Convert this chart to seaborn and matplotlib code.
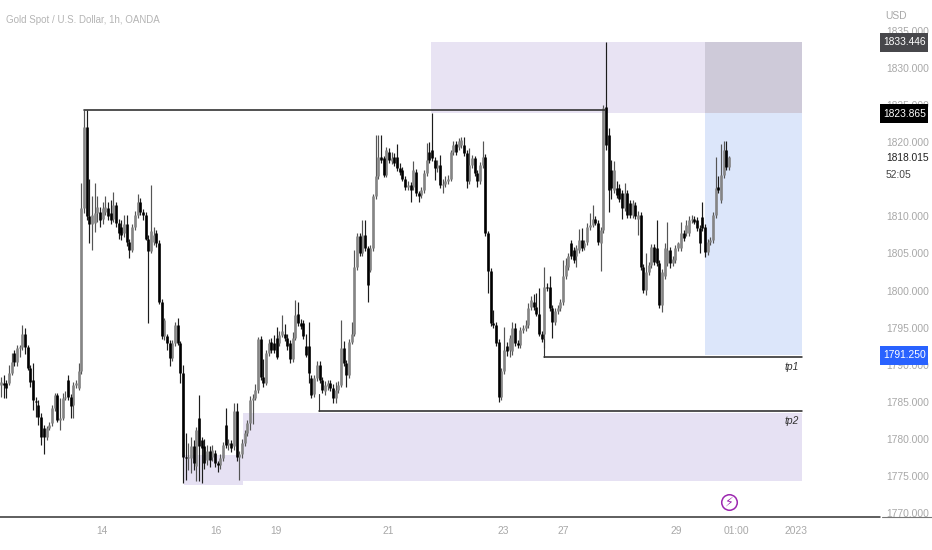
import matplotlib.pyplot as plt
import pandas as pd
import seaborn as sns

opens = [
    1787.3,1787.5,1787.5,1787.5,1788.9,1791.6,1790.4,1792.2,1792.4,1794.2,
    1792.4,1789.5,1787.9,1785.1,1784.6,1783.0,1781.5,1780.3,1781.5,
    1782.1,1784.1,1785.9,1782.6,1782.8,1785.5,1788.0,1785.7,1784.6,1787.3,
    1786.9,1789.1,1811.1,1822.1,1810.0,1808.9,1809.1,1810.4,1810.6,
    1809.7,1810.6,1811.1,1810.4,1809.7,1811.5,1809.1,1808.6,1807.7,
    1808.9,1806.6,1805.5,1808.6,1810.2,1812.0,1810.6,1810.2,1807.0,1805.3,
    1806.6,1807.7,1806.4,1798.5,1793.8,1793.8,1792.9,1790.9,1792.9,1795.4,
    1792.9,1788.9,1777.6,1777.4,1777.4,1779.0,1776.3,1782.8,1779.9,1779.0,
    1777.2,1778.3,1777.6,1778.1,1776.7,1776.5,1777.4,1781.9,1779.2,1779.4,
    1779.0,1783.7,1777.6,1777.9,1779.4,1780.8,1782.1,1785.3,1785.5,1786.6,
    1793.4,1788.4,1787.5,1791.6,1793.1,1792.9,1793.6,1792.9,1794.0,1794.2,
    1793.6,1792.9,1790.7,1793.6,1796.9,1795.6,1795.6,
    1792.5,1792.5,1788.2,1786.0,1788.2,1790.0,1788.0,1786.4,1787.1,1787.5,
    1786.9,1785.5,1786.6,1787.3,1792.2,1790.2,1788.6,1793.1,1794.2,1803.2,
    1807.3,1805.0,1807.5,1805.7,1802.8,1805.7,1812.7,1815.4,1818.0,1817.8,
    1815.6,1818.7,1817.4,1818.0,1818.0,1816.5,1816.3,1815.1,1814.0,1814.2,
    1814.0,1816.0,1813.1,1812.9,1813.6,1815.8,1818.7,1818.9,1817.6,1816.5,
    1816.9,1814.2,1814.4,1814.7,1815.0,1818.7,1819.8,1819.4,1819.6,1819.6,
    1818.5,1814.7,1816.9,1817.8,1815.8,1814.7,1816.9,1818.0,1807.7,1802.6,
    1795.6,1795.4,1793.1,1785.7,1789.1,1792.5,1792.0,1791.8,1794.9,1792.9,
    1792.7,1794.7,1794.9,1795.4,1797.8,1798.5,1797.8,1796.9,1794.2,
    1794.2,1800.5,1800.5,1797.6,1795.8,1797.2,1797.6,1798.5,1801.9,1803.2,
    1806.4,1805.5,1804.6,1805.5,1806.8,1805.9,1806.6,1808.6,1808.8,1809.7,
    1809.1,1806.4,1808.2,
    1824.8,1821.0,1816.2,1813.5,1813.8,1813.8,1813.1,1811.1,1813.1,1811.8,
    1810.2,1811.5,1809.7,1810.2,1803.2,1800.1,1802.5,1803.4,1805.9,1805.7,
    1803.7,1798.1,1801.9,1803.7,1805.4,1803.7,1804.1,1805.7,1805.7,1807.7,
    1807.7,1807.7,1809.5,1809.7,1809.5,1808.4,1809.9,1808.6,1805.2,1806.6,1806.8,
    1810.2,1814.0,1812.2,1815.6,1819.0,1816.7,
]
closes = [
    1787.7,1787.3,1786.9,1788.9,1790.4,1790.4,1792.2,1792.4,1794.2,1792.4,
    1789.5,1787.7,1785.3,1785.0,1783.0,1780.3,1780.3,1781.5,1781.9,
    1784.1,1785.9,1782.6,1782.8,1785.5,1785.7,1785.7,1784.4,1787.3,1787.5,
    1789.1,1811.1,1822.1,1810.0,1808.9,1810.2,1810.4,1811.3,1809.5,
    1811.1,1811.3,1810.0,1809.5,1811.5,1809.1,1807.7,1807.5,1808.9,
    1806.6,1805.5,1808.6,1810.2,1812.0,1810.6,1810.2,1807.0,1805.3,1808.0,
    1807.5,1806.4,1798.5,1793.8,1796.0,1792.9,1790.9,1792.9,1795.4,1792.9,
    1788.9,1777.6,1777.4,1777.6,1779.0,1776.7,1781.2,1779.0,1778.8,1776.7,
    1778.3,1777.2,1778.5,1776.7,1776.5,1777.4,1779.2,1779.2,1779.4,1778.8,
    1783.7,1777.6,1777.9,1779.4,1780.8,1782.1,1785.3,1785.5,1786.6,1793.4,
    1788.4,1787.5,1791.6,1792.9,1792.0,1792.0,1791.1,1794.0,1794.5,1793.6,
    1792.5,1790.7,1793.6,1796.7,1795.6,1795.2,1793.8,
    1791.3,1788.9,1785.9,1788.2,1790.0,1788.0,1786.6,1787.3,1787.5,1786.9,
    1785.5,1786.6,1787.3,1792.2,1790.2,1788.6,1793.1,1794.2,1803.2,1807.3,
    1805.0,1807.5,1805.7,1800.8,1805.7,1812.7,1815.4,1818.0,1817.6,1815.6,
    1818.9,1817.6,1817.8,1817.2,1816.5,1816.0,1815.1,1814.0,1814.2,1813.6,
    1816.3,1813.1,1812.7,1813.6,1815.8,1817.6,1817.6,1817.8,1816.5,1816.9,
    1814.2,1814.4,1814.7,1815.0,1818.7,1819.6,1818.7,1820.1,1820.3,1818.5,
    1814.7,1816.9,1817.8,1815.8,1814.7,1816.9,1818.0,1807.7,1802.6,1795.6,
    1795.4,1792.9,1785.7,1789.1,1792.0,1791.8,1793.6,1794.9,1792.9,1792.7,
    1794.7,1794.9,1795.4,1797.6,1798.7,1797.8,1796.9,1794.2,1793.4,
    1800.5,1800.3,1797.6,1795.8,1797.2,1797.6,1798.5,1801.9,1803.5,1804.6,
    1804.6,1804.1,1805.7,1806.8,1805.7,1806.4,1808.6,1808.8,1809.7,1809.1,
    1806.6,1808.2,1824.6,
    1819.6,1813.5,1813.8,1816.2,1812.9,1812.4,1811.1,1813.1,1810.2,1810.2,
    1811.8,1810.0,1810.2,1803.2,1800.1,1802.5,1803.4,1805.9,1803.9,1803.7,
    1798.1,1802.5,1805.7,1805.4,1803.7,1804.3,1805.7,1806.4,1807.7,1807.1,
    1808.8,1809.5,1809.7,1809.2,1808.4,1806.4,1808.4,1805.2,1806.6,1806.8,1810.2,
    1813.8,1813.5,1815.6,1819.0,1816.7,1818.0,
]
highs = [
    1788.4,1788.6,1788.0,1790.0,1791.6,1792.0,1792.7,1792.7,1795.4,1795.0,
    1792.6,1789.9,1790.2,1785.6,1785.3,1783.5,1781.9,1781.7,1782.3,
    1784.6,1786.2,1786.2,1785.5,1786.2,1786.5,1788.6,1786.0,1787.6,1788.0,
    1790.2,1814.5,1824.3,1824.3,1815.1,1812.7,1814.5,1812.7,1811.2,
    1812.0,1812.7,1811.9,1812.2,1813.3,1812.0,1809.6,1809.5,1810.2,
    1810.2,1807.0,1809.0,1810.7,1813.0,1812.5,1811.0,1810.6,1807.5,1814.2,
    1808.6,1808.2,1806.8,1798.9,1796.3,1794.2,1793.3,1793.3,1795.8,1796.3,
    1793.2,1790.0,1780.8,1779.5,1780.3,1779.8,1781.6,1785.9,1780.3,1780.0,
    1779.2,1779.0,1779.2,1778.5,1777.0,1778.0,1779.6,1784.1,1780.0,1779.8,
    1784.8,1784.8,1778.3,1780.0,1781.2,1782.6,1785.8,1786.0,1787.4,1793.7,
    1793.8,1790.7,1792.0,1793.4,1793.6,1794.0,1795.1,1794.6,1796.7,1795.5,
    1794.2,1793.3,1794.4,1798.7,1798.5,1796.2,1796.0,
    1794.2,1795.8,1788.6,1788.6,1790.5,1790.5,1788.4,1787.8,1788.0,1787.9,
    1787.4,1787.7,1787.8,1796.0,1793.2,1790.6,1793.5,1795.8,1805.5,1807.8,
    1807.8,1809.5,1809.5,1806.0,1806.1,1813.0,1821.0,1821.0,1821.0,1818.2,
    1819.4,1819.2,1818.7,1818.6,1819.8,1817.2,1816.7,1815.5,1814.7,1814.6,
    1817.4,1816.4,1813.4,1814.0,1816.2,1819.9,1820.0,1823.9,1818.0,1817.6,
    1818.3,1815.0,1815.5,1815.6,1819.0,1820.1,1820.2,1820.5,1820.7,1820.7,
    1818.9,1819.2,1818.3,1818.2,1816.2,1817.3,1820.1,1818.4,1808.0,1803.0,
    1797.4,1795.8,1793.5,1789.5,1795.1,1793.0,1794.0,1795.7,1795.6,1793.3,
    1795.1,1795.3,1796.0,1798.3,1799.2,1799.5,1799.6,1800.3,1794.6,
    1803.2,1801.0,1802.0,1798.0,1797.6,1798.0,1798.9,1804.1,1804.4,1805.0,
    1806.8,1805.9,1806.1,1808.3,1808.4,1806.8,1809.1,1810.4,1811.5,1810.0,
    1809.5,1808.6,1825.0,
    1833.5,1821.9,1817.6,1817.5,1814.7,1814.4,1813.5,1814.5,1813.6,1812.2,
    1812.2,1811.9,1810.7,1810.6,1803.6,1805.0,1803.8,1806.3,1806.3,1809.5,
    1804.1,1802.9,1806.4,1809.3,1805.8,1804.7,1806.1,1806.6,1809.3,1808.1,
    1809.5,1810.0,1810.2,1810.1,1809.9,1808.8,1812.0,1809.0,1807.0,1807.2,1810.6,
    1818.0,1815.5,1819.8,1820.1,1820.1,1818.2,
]
lows = [
    1785.7,1785.5,1785.5,1787.3,1788.6,1789.8,1789.8,1791.1,1792.0,1791.5,
    1789.3,1787.0,1783.9,1783.0,1781.9,1779.2,1777.9,1779.9,1781.2,
    1781.7,1783.8,1782.3,1781.2,1782.6,1785.2,1785.3,1782.8,1782.8,1786.8,
    1786.6,1788.8,1810.5,1809.5,1806.4,1805.5,1807.9,1809.3,1808.6,
    1809.0,1810.2,1809.5,1809.0,1809.2,1808.6,1806.9,1806.8,1807.2,
    1806.0,1804.4,1805.2,1808.2,1809.8,1810.2,1809.5,1806.8,1795.6,1805.0,
    1806.2,1805.9,1798.2,1793.5,1793.3,1792.0,1789.8,1790.5,1792.5,1792.6,
    1787.5,1774.0,1774.5,1775.8,1775.4,1775.8,1774.3,1774.3,1774.0,1776.0,
    1776.5,1776.2,1777.0,1776.2,1775.5,1776.0,1777.0,1778.8,1778.5,1778.2,
    1778.5,1777.0,1774.5,1777.4,1779.0,1780.4,1781.2,1782.0,1785.2,1786.2,
    1788.0,1787.0,1787.2,1791.2,1791.6,1791.6,1790.8,1792.5,1793.7,1793.2,
    1792.0,1790.2,1790.4,1793.3,1795.2,1794.8,1793.4,
    1791.0,1787.5,1785.5,1785.6,1787.8,1787.5,1786.2,1785.9,1786.6,1786.4,
    1784.8,1784.8,1786.2,1787.0,1789.8,1787.0,1788.2,1792.8,1793.9,1802.8,
    1804.6,1804.6,1805.3,1798.5,1802.5,1805.3,1812.4,1815.0,1817.2,1815.3,
    1815.3,1817.2,1817.0,1816.8,1816.1,1815.6,1814.8,1813.5,1813.6,1812.0,
    1813.6,1812.8,1812.0,1812.5,1813.2,1815.4,1817.2,1817.4,1814.9,1816.0,
    1813.8,1813.1,1814.0,1814.3,1814.7,1818.3,1818.3,1819.0,1819.2,1818.1,
    1813.8,1814.3,1816.5,1815.4,1814.0,1814.3,1816.5,1807.3,1799.6,1795.2,
    1795.0,1792.5,1785.0,1785.3,1788.7,1791.2,1791.1,1791.3,1792.5,1792.3,
    1792.3,1794.3,1794.5,1795.0,1797.4,1797.4,1796.5,1793.8,1793.0,
    1792.2,1799.9,1797.2,1793.6,1795.4,1796.8,1797.2,1798.1,1801.5,1802.8,
    1804.2,1803.7,1803.2,1805.0,1805.3,1805.5,1806.2,1808.2,1808.5,1808.8,
    1806.2,1802.6,1807.8,
    1819.0,1810.6,1812.4,1813.1,1812.5,1812.0,1809.7,1810.7,1809.8,1809.8,
    1809.8,1809.6,1807.5,1802.8,1799.7,1799.4,1802.1,1803.0,1803.5,1803.3,
    1797.7,1797.1,1801.5,1803.3,1803.0,1803.3,1803.7,1805.3,1805.3,1806.7,
    1807.3,1807.3,1809.1,1808.9,1808.0,1805.0,1808.0,1804.5,1804.8,1806.2,1806.4,
    1809.8,1813.1,1811.8,1815.2,1816.3,1816.3,
]

price_ticks = [1770, 1775, 1780, 1785, 1790, 1795, 1800, 1805, 1810, 1820, 1825, 1830, 1835]
date_labels = ["14", "16", "19", "21", "23", "27", "29", "01:00", "2023"]
date_px = [102, 216, 276, 388, 503, 563, 676, 736, 796]

# price / pixel frame of the screenshot
PX_PER_USD = 7.417
top_price = 1830 + 68 / PX_PER_USD
bottom_price = 1830 - (550 - 68) / PX_PER_USD
bar_px = 728 / (len(opens) - 1)
first_px = 1.0
FONT_SIZE = 7.4


def to_bar(px):
    return (px - first_px) / bar_px


sns.set_theme(style="white")
plt.rcParams["font.family"] = ["Liberation Sans", "DejaVu Sans"]

bars = list(range(len(opens)))
df = pd.DataFrame({"bar": bars, "open": opens, "close": closes, "high": highs, "low": lows})
df["dir"] = ["up" if c >= o else "down" for o, c in zip(df["open"], df["close"])]

wicks = df.melt(id_vars=["bar", "dir"], value_vars=["high", "low"], value_name="price")
bodies = df.melt(id_vars=["bar", "dir"], value_vars=["open", "close"], value_name="price")

fig = plt.figure(figsize=(9.32, 5.5), dpi=100)
ax = fig.add_axes([0, 0, 1, 1])

# zones
ax.fill_between([to_bar(431), to_bar(705)], 1823.87, 1833.45, color="#e8e3f3", lw=0, zorder=1)
ax.fill_between([to_bar(705), to_bar(802)], 1823.87, 1833.45, color="#cecad9", lw=0, zorder=1)
ax.fill_between([to_bar(705), to_bar(802)], 1791.25, 1823.87, color="#dce6fa", lw=0, zorder=1)
ax.fill_between([to_bar(184), to_bar(243)], 1773.8, 1777.8, color="#e6e1f3", lw=0, zorder=1)
ax.fill_between([to_bar(243), to_bar(802)], 1774.3, 1783.5, color="#e6e1f3", lw=0, zorder=1)

# candles
sns.lineplot(data=wicks, x="bar", y="price", units="bar", estimator=None, hue="dir",
             palette={"up": "#555555", "down": "#1c1c1c"}, lw=0.85, legend=False,
             solid_capstyle="butt", ax=ax)
sns.lineplot(data=bodies, x="bar", y="price", units="bar", estimator=None, hue="dir",
             palette={"up": "#858585", "down": "#000000"}, lw=1.9, legend=False,
             solid_capstyle="butt", ax=ax)

# levels
ax.plot([to_bar(84), to_bar(605)], [1824.34, 1824.34], color="#333333", lw=1.2, zorder=3)
ax.plot([to_bar(544), to_bar(802)], [1791.07, 1791.07], color="#222222", lw=1.1, zorder=3)
ax.plot([to_bar(319), to_bar(802)], [1783.8, 1783.8], color="#222222", lw=1.1, zorder=3)
ax.plot([to_bar(544), to_bar(544)], [1791.07, 1793.5], color="#333333", lw=0.8, zorder=3)
ax.plot([to_bar(319), to_bar(319)], [1783.8, 1786.0], color="#333333", lw=0.8, zorder=3)
ax.plot([to_bar(0), to_bar(880)], [1769.45, 1769.45], color="#333333", lw=1.1, zorder=3)
ax.plot([to_bar(882), to_bar(932)], [1769.45, 1769.45], color="#777777", lw=0.8, zorder=3)

ax.text(to_bar(792), 1789.7, "tp1", style="italic", fontsize=FONT_SIZE, color="#333333", ha="center", va="center")
ax.text(to_bar(792), 1782.4, "tp2", style="italic", fontsize=FONT_SIZE, color="#333333", ha="center", va="center")

# lightning badge
ax.scatter([to_bar(729)], [1771.5], s=125, facecolor="white", edgecolor="#9c27b0", linewidth=1.1, zorder=4)
ax.text(to_bar(729), 1771.5, "\u26a1", family="DejaVu Sans", fontsize=9, color="#9c27b0",
        ha="center", va="center", zorder=5)

ax.set_xlim(to_bar(0), to_bar(932))
ax.set_ylim(bottom_price, top_price)
ax.set_xlabel("")
ax.set_ylabel("")
sns.despine(ax=ax, left=True, bottom=True)

ax.yaxis.tick_right()
ax.set_yticks(price_ticks)
ax.set_yticklabels([f"{p:.3f}" for p in price_ticks])
ax.set_xticks([to_bar(p) for p in date_px])
ax.set_xticklabels(date_labels)
ax.tick_params(axis="y", length=0, pad=-33, labelsize=FONT_SIZE, labelcolor="#a8a8a8")
ax.tick_params(axis="x", length=0, pad=-17, labelsize=FONT_SIZE, labelcolor="#a8a8a8")

# price badges
half_badge = 9.5 / PX_PER_USD
for price, label, face in [(1833.446, "1833.446", "#47474b"), (1823.865, "1823.865", "#000000"),
                           (1791.25, "1791.250", "#2962ff")]:
    ax.fill_between([to_bar(880), to_bar(928)], price - half_badge, price + half_badge,
                    color=face, lw=0, zorder=6)
    ax.text(to_bar(904.5), price, label, color="white", fontsize=FONT_SIZE, ha="center", va="center", zorder=7)
ax.text(to_bar(886), 1817.9, "1818.015", color="#222222", fontsize=FONT_SIZE, ha="left", va="center", zorder=6)
ax.text(to_bar(886), 1815.6, "52:05", color="#444444", fontsize=FONT_SIZE, ha="left", va="center", zorder=6)

ax.text(to_bar(896), top_price - 16 / PX_PER_USD, "USD", color="#a8a8a8", fontsize=FONT_SIZE, ha="center", va="center")
ax.text(to_bar(6), top_price - 20 / PX_PER_USD, "Gold Spot / U.S. Dollar, 1h, OANDA", color="#b4b4b4",
        fontsize=7, ha="left", va="center")

fig.savefig("out.png", dpi=100)
